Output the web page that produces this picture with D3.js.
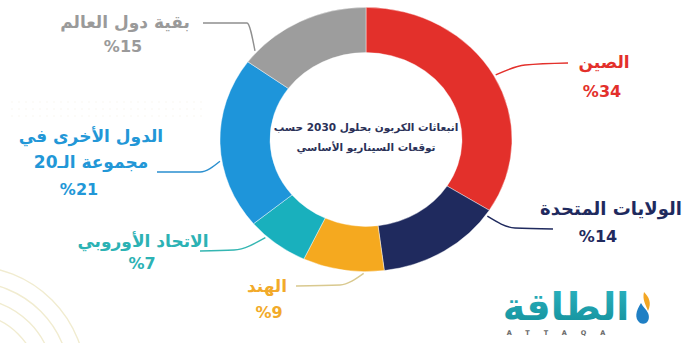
<!DOCTYPE html>
<html lang="ar">
<head>
<meta charset="utf-8">
<script src="https://cdn.jsdelivr.net/npm/d3@7"></script>
<style>
  html, body { margin: 0; padding: 0; background: #ffffff; }
  svg { display: block; }
  text { font-family: "DejaVu Sans", "Noto Sans", sans-serif; font-weight: bold; }
</style>
</head>
<body>
<svg id="chart" width="689" height="343"></svg>
<script>
// Carbon emissions share by 2030 (base scenario), clockwise from 12 o'clock
const regions = ["الصين", "الولايات المتحدة", "الهند", "الاتحاد الأوروبي", "الدول الأخرى في مجموعة الـ20", "بقية دول العالم"];
const shares  = [34, 14, 9, 7, 21, 15];
const colors  = ["#e3302b", "#1f2a5e", "#f5a91f", "#19b0bd", "#1e95da", "#9d9d9d"];
const titleLines = ["انبعاثات الكربون بحلول 2030 حسب", "توقعات السيناريو الأساسي"];

const W = 689, H = 343;
const cx = 366, cy = 139.5, rOuter = 146, rInner = 96, squash = 0.905;

const svg = d3.select("#chart");

// faint decorative arcs in the lower-left corner
const deco = svg.append("g").attr("fill", "none").attr("stroke", "#f1ecd0").attr("stroke-width", 1.4);
[68, 84, 100, 116].forEach(r => {
  deco.append("path").attr("d", d3.arc()({innerRadius: r, outerRadius: r, startAngle: 0, endAngle: Math.PI / 2}))
    .attr("transform", "translate(-30,382)");
});
// very faint dotted grid band behind the left labels
const dots = svg.append("g").attr("fill", "#f7f5ee");
d3.range(12, 205, 7).forEach(x => d3.range(102, 118, 7).forEach(y => {
  dots.append("circle").attr("cx", x).attr("cy", y).attr("r", 0.8);
}));

const pie = d3.pie().sort(null).value(d => d)(shares);
const arc = d3.arc().innerRadius(rInner).outerRadius(rOuter);

const ring = svg.append("g").attr("transform", `translate(${cx},${cy}) scale(1,${squash})`);
ring.selectAll("path").data(pie).join("path")
  .attr("d", arc)
  .attr("fill", (d, i) => colors[i])
  .attr("stroke", "#ffffff")
  .attr("stroke-opacity", 0.55)
  .attr("stroke-width", 0.8);

// centre caption
svg.append("g").selectAll("text").data(titleLines).join("text")
  .attr("x", cx).attr("y", (d, i) => 128 + i * 20)
  .attr("direction", "rtl")
  .attr("text-anchor", "middle").attr("dominant-baseline", "middle")
  .attr("font-size", 10.5).attr("fill", "#2b3158")
  .text(d => d);

// label layout: where the leader leaves the ring (fraction across the slice),
// the elbow/end points of the leader, and label text centres
const layout = [
  {t: 0.5,  pts: [[525, 65], [568, 63]], lines: [[604, 63]], pct: [602, 92], lineColor: "#e3302b", textColor: "#e3302b"},
  {t: 0.05, pts: [[515, 228], [553, 229]], lines: [[611, 210]], pct: [598, 237], lineColor: "#1f2a5e", textColor: "#1f2a5e"},
  {t: 0.25, pts: [[340, 285], [296, 286]], lines: [[267, 287]], pct: [269, 313], lineColor: "#d9c98f", textColor: "#f2aa2a"},
  {t: 0.7,  pts: [[234, 250], [200, 251]], lines: [[143, 242]], pct: [142, 264], lineColor: "#34b6b2", textColor: "#2cb2b4"},
  {t: 0.4,  pts: [[200, 172], [157, 172]], lines: [[91, 137], [91, 163]], pct: [79, 190], lineColor: "#2a8fcf", textColor: "#2297d7"},
  {t: 0.1,  pts: [[247, 23], [203, 23]], lines: [[125, 23]], pct: [123, 47], lineColor: "#8f8f8f", textColor: "#9a9a9a"}
];
const nameLines = [["الصين"], ["الولايات المتحدة"], ["الهند"], ["الاتحاد الأوروبي"], ["الدول الأخرى في", "مجموعة الـ20"], ["بقية دول العالم"]];
const nameSize = [17, 18, 17, 17, 17, 17];

const labels = svg.append("g");
pie.forEach((p, i) => {
  const L = layout[i];
  const a = p.startAngle + (p.endAngle - p.startAngle) * L.t;
  const r = rOuter + 2;
  const start = [cx + r * Math.sin(a), cy - r * Math.cos(a) * squash];
  const pts = [start, ...L.pts];
  labels.append("path")
    .attr("d", d3.line().curve(d3.curveMonotoneX)(pts.slice().sort((u, v) => u[0] - v[0])))
    .attr("fill", "none").attr("stroke", L.lineColor).attr("stroke-width", 1.4);
  nameLines[i].forEach((txt, k) => {
    labels.append("text")
      .attr("x", L.lines[k][0]).attr("y", L.lines[k][1])
      .attr("direction", "rtl")
      .attr("text-anchor", "middle").attr("dominant-baseline", "middle")
      .attr("font-size", nameSize[i]).attr("fill", L.textColor)
      .text(txt);
  });
  labels.append("text")
    .attr("x", L.pct[0]).attr("y", L.pct[1])
    .attr("text-anchor", "middle").attr("dominant-baseline", "middle")
    .attr("font-size", 16).attr("fill", L.textColor)
    .text("%" + shares[i]);
});

// publisher mark
const defs = svg.append("defs");
const grad = defs.append("linearGradient").attr("id", "logoGrad").attr("x1", 0).attr("x2", 0).attr("y1", 0).attr("y2", 1);
grad.append("stop").attr("offset", "0%").attr("stop-color", "#2bb3c0");
grad.append("stop").attr("offset", "100%").attr("stop-color", "#138f9a");
const logo = svg.append("g");
logo.append("text").attr("x", 566).attr("y", 320)
  .attr("direction", "rtl").attr("text-anchor", "middle")
  .attr("font-size", 38).attr("fill", "url(#logoGrad)").text("الطاقة");
logo.append("path")
  .attr("d", "M641,303 C636,311 634,318 640,323 C646,326 651,320 648,313 C646,309 643,307 641,303 Z")
  .attr("fill", "#1f7fc4");
logo.append("path")
  .attr("d", "M644,292 C649,297 652,303 648,311 C646,305 642,300 644,292 Z")
  .attr("fill", "#f3a623");
logo.append("text").attr("x", 563).attr("y", 335)
  .attr("text-anchor", "middle").attr("font-size", 6.5).attr("fill", "#6a6a6a")
  .attr("letter-spacing", 14).text("ATTAQA");
</script>
</body>
</html>
